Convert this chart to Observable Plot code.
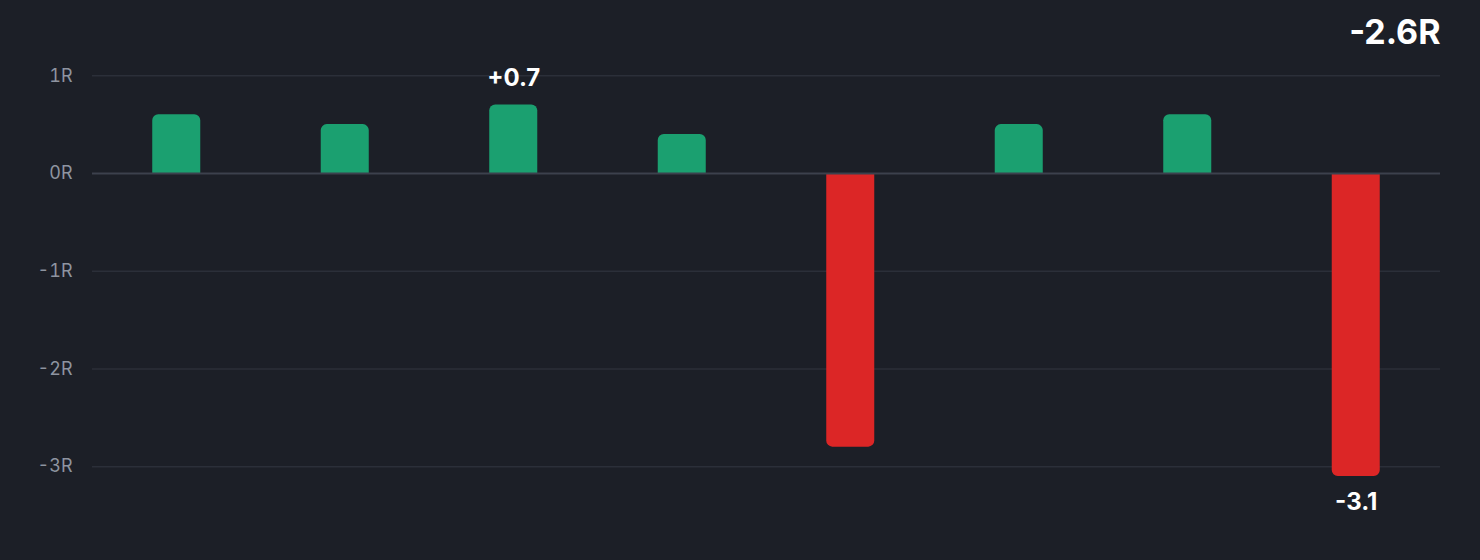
<!DOCTYPE html>
<html>
<head>
<meta charset="utf-8">
<script src="https://cdn.jsdelivr.net/npm/d3@7"></script>
<script src="https://cdn.jsdelivr.net/npm/@observablehq/plot@0.6"></script>
<style>
  html, body { margin: 0; padding: 0; background: #1c1f27; }
  #chart svg { display: block; }
</style>
</head>
<body>
<div id="chart"></div>
<script>
const trades = ["T1", "T2", "T3", "T4", "T5", "T6", "T7", "T8"];
const rValues = [0.6, 0.5, 0.7, 0.4, -2.8, 0.5, 0.6, -3.1];
const yTicks = [1, 0, -1, -2, -3];

const data = trades.map((t, i) => ({ trade: t, r: rValues[i] }));
const wins = data.filter(d => d.r >= 0);
const losses = data.filter(d => d.r < 0);
const total = d3.sum(rValues);
const maxD = data[d3.maxIndex(data, d => d.r)];
const minD = data[d3.minIndex(data, d => d.r)];
const fmt = v => (v > 0 ? "+" : v < 0 ? "-" : "") + Math.abs(v).toFixed(1);

const GREEN = "#1ba070";
const RED = "#dc2626";

const chart = Plot.plot({
  width: 1480,
  height: 560,
  marginTop: 0,
  marginBottom: 0,
  marginLeft: 92,
  marginRight: 40,
  style: { background: "#1c1f27", fontFamily: "Inter, sans-serif" },
  x: { domain: trades, paddingInner: 0.715, paddingOuter: 0.3575, round: false, axis: null, label: null },
  y: { domain: [-3.96, 1.77], axis: null, label: null },
  marks: [
    Plot.gridY(yTicks.filter(t => t !== 0), { stroke: "#2b2f39", strokeOpacity: 1, strokeWidth: 1.5 }),
    Plot.axisY(yTicks, {
      tickSize: 0, tickPadding: 20, tickFormat: d => d + "R", label: null,
      fill: "#8e94a0", fontSize: 18, textAnchor: "end"
    }),
    Plot.barY(wins, { x: "trade", y: "r", fill: GREEN, ry1: 6, rx1y1: 6, rx2y1: 6 }),
    Plot.barY(losses, { x: "trade", y: "r", fill: RED, ry2: 6, rx1y2: 6, rx2y2: 6 }),
    Plot.ruleY([0], { stroke: "#3c414d", strokeWidth: 2 }),
    Plot.text([maxD], { x: "trade", y: "r", text: d => fmt(d.r), dy: -27, fill: "#ffffff", fontSize: 24, fontWeight: 700 }),
    Plot.text([minD], { x: "trade", y: "r", text: d => fmt(d.r), dy: 26, fill: "#ffffff", fontSize: 24, fontWeight: 700 }),
    Plot.text([total], { frameAnchor: "top-right", text: d => fmt(d) + "R", dy: 33, lineAnchor: "middle", textAnchor: "end", fill: "#ffffff", fontSize: 34, fontWeight: 700 })
  ]
});
document.getElementById("chart").appendChild(chart);
</script>
</body>
</html>
